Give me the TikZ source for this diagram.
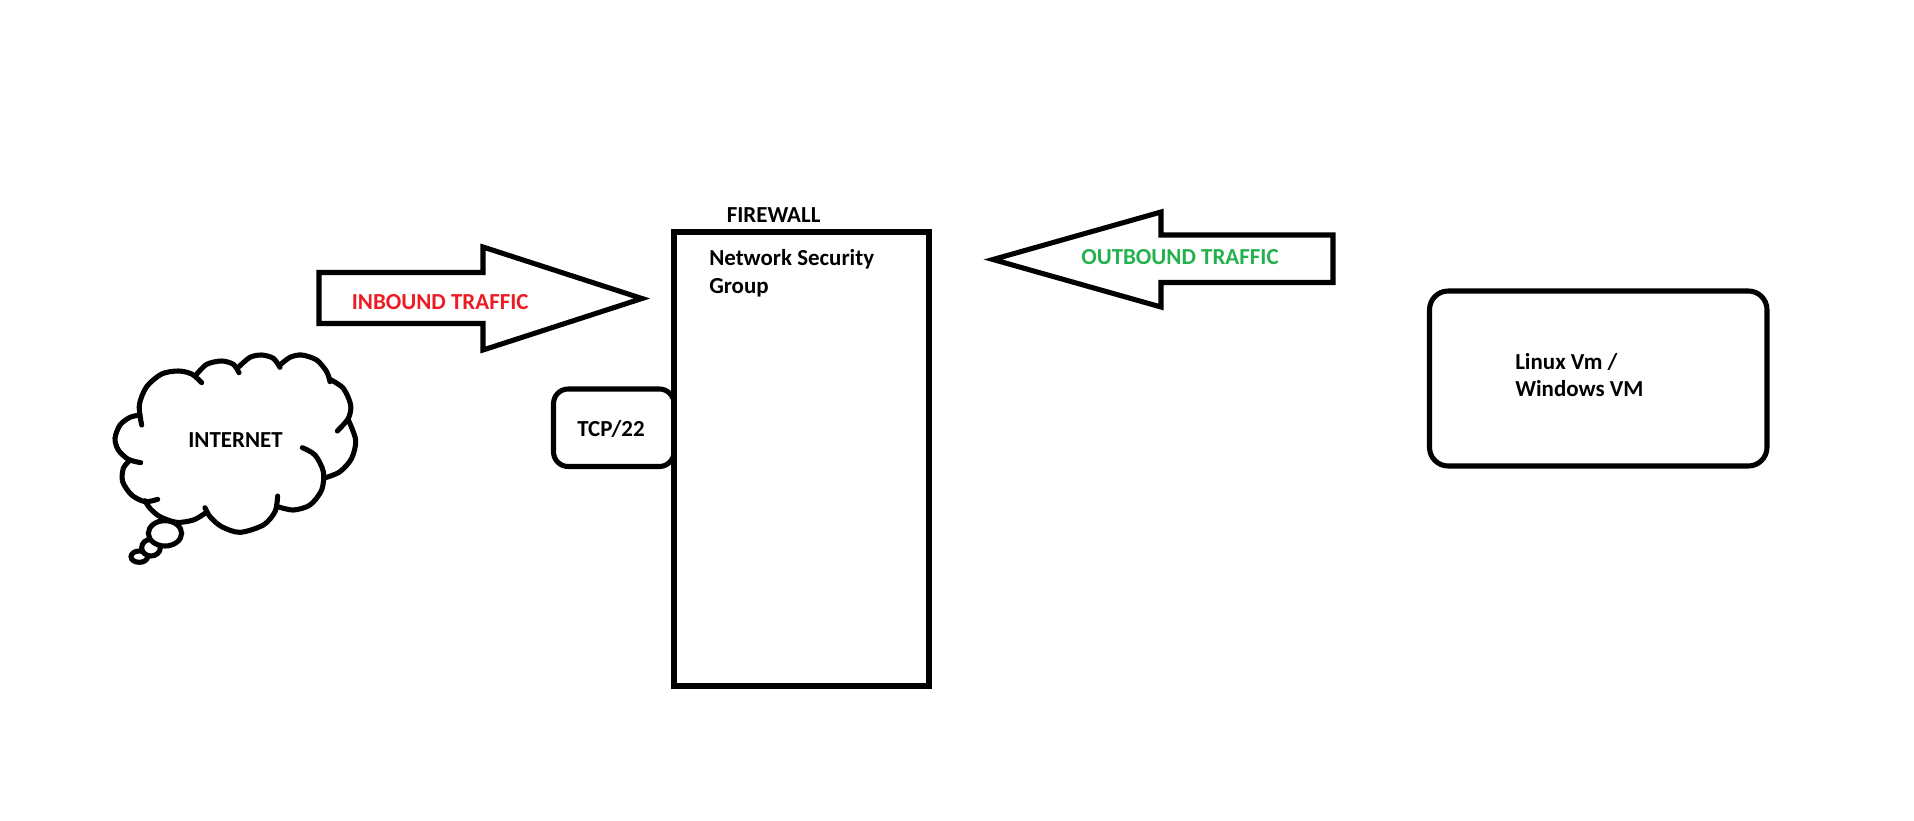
\documentclass[tikz,border=0pt]{standalone}
\usepackage{fontspec}
\setmainfont{Carlito}
\definecolor{inred}{RGB}{237,28,36}
\definecolor{outgreen}{RGB}{34,177,76}
\tikzset{
  sketchline/.style={line width=3.8pt,line join=miter,color=black},
  roundline/.style={line width=3.8pt,line cap=round,line join=round,color=black},
  lobe/.style={line width=3.8pt,line cap=round,color=black},
  labeltext/.style={font=\fontsize{17.2}{20.7}\bfseries\selectfont,inner sep=0pt,align=left}
}
\begin{document}
\begin{tikzpicture}[x=0.75pt,y=0.75pt,yscale=-1,xscale=1]
        \useasboundingbox (0,0) rectangle (1914,821);
        % TCP tab
        \draw [roundline,rounded corners=11pt] (553.5,389) rectangle (674,466.5);
        % Firewall
        \draw [sketchline] (674,232) rectangle (929,686);
        % Inbound arrow
        \draw [sketchline] (319,272.5) -- (483,272.5) -- (483,247) -- (642,298.5) -- (483,350) -- (483,323.5) -- (319,323.5) -- cycle;
        % Outbound arrow
        \draw [sketchline] (993,259.5) -- (1161,212) -- (1161,235) -- (1333,235) -- (1333,282.5) -- (1161,282.5) -- (1161,307) -- cycle;
        % VM box
        \draw [roundline,rounded corners=14pt] (1429.5,291) rectangle (1767,466);
        % Cloud
        \begin{scope}[shift={(90,330)},x=0.25pt,y=0.25pt]
        \draw [lobe] plot [smooth] coordinates {(155,285) (148,225) (170,170) (215,132) (265,123) (305,132) (335,158)};
        \draw [lobe] plot [smooth] coordinates {(318,135) (350,103) (395,93) (430,103) (447,128)};
        \draw [lobe] plot [smooth] coordinates {(447,110) (480,82) (515,75) (550,85) (570,112)};
        \draw [lobe] plot [smooth] coordinates {(570,105) (600,82) (635,75) (680,90) (710,125) (720,155)};
        \draw [lobe] plot [smooth] coordinates {(720,148) (760,175) (782,225) (775,265) (742,303)};
        \draw [lobe] plot [smooth] coordinates {(775,270) (797,330) (785,385) (750,425) (707,443)};
        \draw [lobe] plot [smooth] coordinates {(637,353) (675,375) (700,425) (695,480) (660,525) (610,540) (563,530)};
        \draw [lobe] plot [smooth] coordinates {(563,498) (555,545) (520,585) (450,607) (395,590) (360,560) (345,533)};
        \draw [lobe] plot [smooth] coordinates {(345,550) (310,570) (260,577) (210,560) (180,535) (165,512)};
        \draw [lobe] plot [smooth] coordinates {(203,508) (165,515) (125,495) (98,455) (100,415) (120,390)};
        \draw [lobe] plot [smooth] coordinates {(152,398) (115,388) (85,360) (75,325) (90,285) (120,262) (150,255)};
        \draw [lobe,fill=white] (148,680) ellipse [x radius=25,y radius=17];
        \draw [lobe,fill=white] (183,653) ellipse [x radius=28,y radius=25];
        \draw [lobe,fill=white] (225,610) ellipse [x radius=50,y radius=38];
        \end{scope}
        % Text Node
        \draw (726.5,222.5) node (firewall) [labeltext,anchor=base west] {FIREWALL};
        % Text Node
        \draw (709,249.5) node (nsg) [labeltext,anchor=north west] {Network Security\\Group};
        % Text Node
        \draw (577,436) node (tcp) [labeltext,anchor=base west] {TCP/22};
        % Text Node
        \draw (351.5,309) node (inbound) [labeltext,anchor=base west,color=inred] {INBOUND TRAFFIC};
        % Text Node
        \draw (1081,264) node (outbound) [labeltext,anchor=base west,color=outgreen] {OUTBOUND TRAFFIC};
        % Text Node
        \draw (1515,353) node (vm) [labeltext,anchor=north west] {Linux Vm /\\Windows VM};
        % Text Node
        \draw (235.5,440) node (internet) [labeltext] {INTERNET};
\end{tikzpicture}
\end{document}
